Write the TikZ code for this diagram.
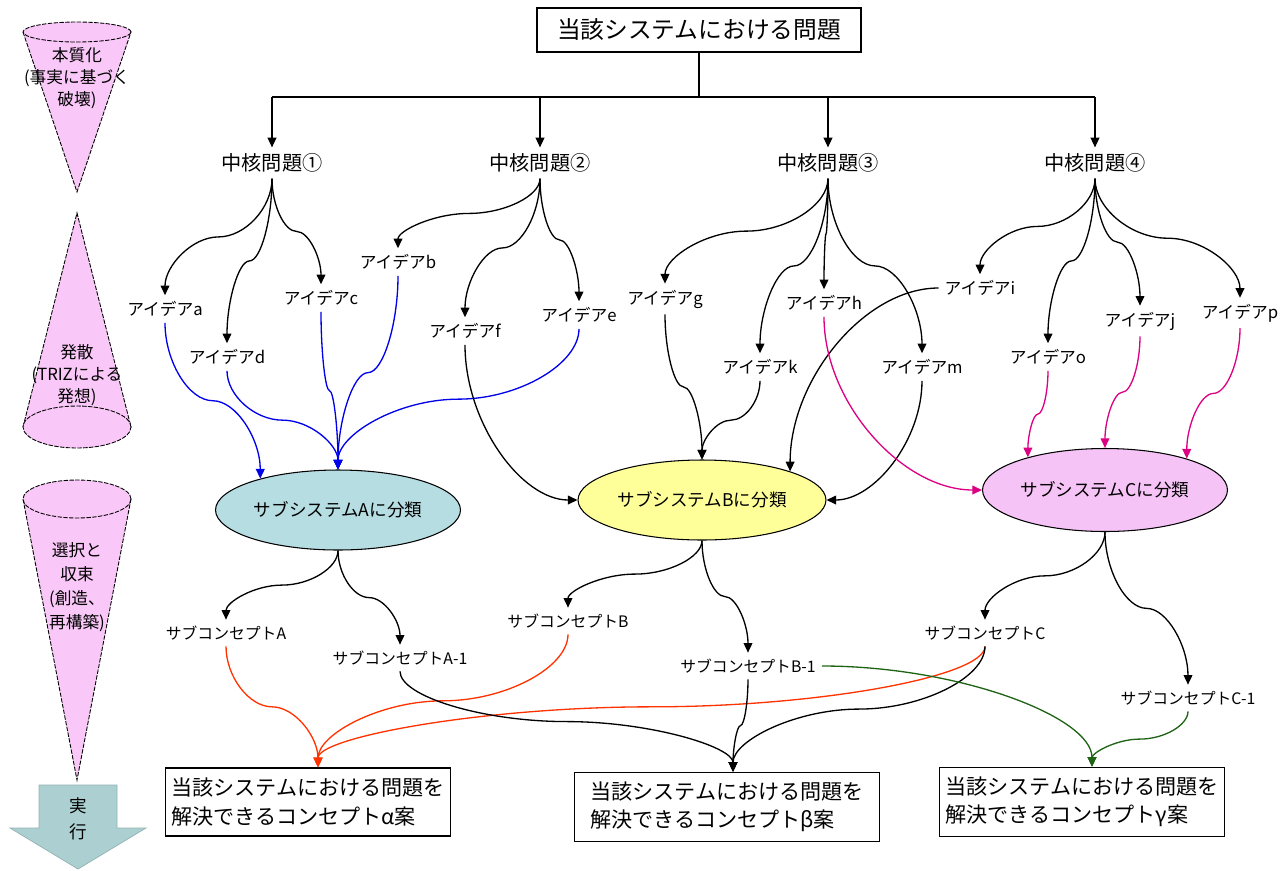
\documentclass[tikz,border=0pt]{standalone}
\usepackage{fontspec}
\setmainfont{Noto Sans CJK JP}
\usetikzlibrary{arrows.meta,shapes.geometric,calc}

\definecolor{sysAcol}{RGB}{182,221,226}
\definecolor{sysBcol}{RGB}{255,255,153}
\definecolor{sysCcol}{RGB}{245,195,245}
\definecolor{conecol}{RGB}{250,200,248}
\definecolor{runcol}{RGB}{172,208,210}
\definecolor{ablue}{RGB}{0,0,235}
\definecolor{amag}{RGB}{220,0,130}
\definecolor{ared}{RGB}{255,50,0}
\definecolor{agreen}{RGB}{30,100,20}

\tikzset{
	arr/.style={line width=0.75pt, -{Triangle[length=5.5pt,width=5pt]}},
	xlcurve/.style={to path={let \p1=(\tikztostart), \p2=(\tikztotarget) in
		.. controls (\x1,{\y1+(\y2-\y1)/4}) and ({\x1+(\x2-\x1)/4},{(\y1+\y2)/2})
		.. ({(\x1+\x2)/2},{(\y1+\y2)/2})
		.. controls ({\x1+3*(\x2-\x1)/4},{(\y1+\y2)/2}) and (\x2,{\y1+3*(\y2-\y1)/4})
		.. (\tikztotarget) \tikztonodes}},
	vbend/.style={to path={let \p1=(\tikztostart), \p2=(\tikztotarget) in
		.. controls (\x1,{(\y1+\y2)/2}) and ({(\x1+\x2)/2},\y2) .. (\tikztotarget) \tikztonodes}},
	hbend/.style={to path={let \p1=(\tikztostart), \p2=(\tikztotarget) in
		.. controls ({(\x1+\x2)/2},\y1) and (\x2,{(\y1+\y2)/2}) .. (\tikztotarget) \tikztonodes}},
	title/.style={draw, line width=0.8pt, minimum width=6.48cm, minimum height=0.88cm, font=\fontsize{13.5}{16}\selectfont},
	core/.style={font=\fontsize{11.5}{14}\selectfont},
	idea/.style={font=\fontsize{9.5}{12}\selectfont},
	subsys/.style={ellipse, draw, line width=0.6pt, inner sep=0pt, font=\fontsize{10}{12}\selectfont},
	subc/.style={font=\fontsize{9}{11}\selectfont},
	plan/.style={draw, line width=0.8pt, align=left, font=\fontsize{12}{16}\selectfont},
	cone/.style={fill=conecol, draw, line width=0.5pt, dash pattern=on 2.5pt off 0.8pt},
	phase/.style={align=center, inner sep=0pt, font=\fontsize{9.5}{12.7}\selectfont}
}

\begin{document}
\begin{tikzpicture}[x=0.02cm, y=-0.02cm]
		
		\useasboundingbox (0,0) rectangle (1286,870);
		
		%%% left column
		\filldraw[cone] (23,32) -- (77,192) -- (131,32) -- cycle;
		\filldraw[cone] (77,32) ellipse (1.08cm and 0.2cm);
		\filldraw[cone] (23,427) -- (77,213) -- (131,427) -- cycle;
		\filldraw[cone] (77,427) ellipse (1.08cm and 0.42cm);
		\filldraw[cone] (23,499) -- (77,780) -- (131,499) -- cycle;
		\filldraw[cone] (77,499) ellipse (1.08cm and 0.38cm);
		\filldraw[fill=runcol, draw=runcol!85!black, line width=0.4pt] (39,785) -- (117,785) -- (117,828) -- (146,828) -- (78,869) -- (10,828) -- (39,828) -- cycle;
		
		\node[phase] (ph1) at (77,78) {本質化\\(事実に基づく\\破壊)};
		\node[phase] (ph2) at (77,375) {発散\\(TRIZによる\\発想)};
		\node[phase, font=\fontsize{9.5}{13.6}\selectfont] (ph3) at (77,587) {選択と\\収束\\(創造、\\再構築)};
		\node[phase, font=\fontsize{10}{14.5}\selectfont] (run) at (78,819) {実\\行};
		
		%%% nodes
		\node[title] (top) at (699,30) {当該システムにおける問題};
		\coordinate (bar) at (699,97);
		
		\node[core] (core1) at (272,163) {中核問題①};
		\node[core] (core2) at (540,163) {中核問題②};
		\node[core] (core3) at (828,163) {中核問題③};
		\node[core] (core4) at (1095,163) {中核問題④};
		
		\node[idea] (ida) at (165,309) {アイデアa};
		\node[idea] (idb) at (398,262) {アイデアb};
		\node[idea] (idc) at (321,298) {アイデアc};
		\node[idea] (idd) at (227,357) {アイデアd};
		\node[idea] (ide) at (579,315) {アイデアe};
		\node[idea] (idf) at (465,331) {アイデアf};
		\node[idea] (idg) at (665,299) {アイデアg};
		\node[idea] (idh) at (824,303) {アイデアh};
		\node[idea] (idk) at (760,367) {アイデアk};
		\node[idea] (idm) at (922,367) {アイデアm};
		\node[idea] (idi) at (980,288) {アイデアi};
		\node[idea] (ido) at (1048,357) {アイデアo};
		\node[idea] (idj) at (1140,321) {アイデアj};
		\node[idea] (idp) at (1240,313) {アイデアp};
		
		\node[subsys, fill=sysAcol, minimum width=4.9cm, minimum height=1.6cm] (sysA) at (338,510) {サブシステムAに分類};
		\node[subsys, fill=sysBcol, minimum width=4.96cm, minimum height=1.6cm] (sysB) at (702,500) {サブシステムBに分類};
		\node[subsys, fill=sysCcol, minimum width=4.9cm, minimum height=1.66cm] (sysC) at (1105,490) {サブシステムCに分類};
		
		\node[subc] (subA) at (226,633) {サブコンセプトA};
		\node[subc] (subA1) at (400,658) {サブコンセプトA-1};
		\node[subc] (subB) at (568,621) {サブコンセプトB};
		\node[subc] (subB1) at (748,666) {サブコンセプトB-1};
		\node[subc] (subC) at (985,633) {サブコンセプトC};
		\node[subc] (subC1) at (1188,698) {サブコンセプトC-1};
		
		\node[plan, minimum width=5.68cm, minimum height=1.36cm] (alpha) at (308,802) {当該システムにおける問題を\\解決できるコンセプトα案};
		\node[plan, minimum width=6.1cm, minimum height=1.38cm] (beta) at (727,807) {当該システムにおける問題を\\解決できるコンセプトβ案};
		\node[plan, minimum width=5.62cm, minimum height=1.38cm] (gamma) at (1082,802) {当該システムにおける問題を\\解決できるコンセプトγ案};
		
		%%% top tree
		\draw[line width=0.8pt] (top.south) -- (bar);
		\draw[line width=0.8pt] (bar -| core1) -- (bar -| core4);
		\foreach \c in {core1,core2,core3,core4}
			\draw[arr] (bar -| \c) -- (\c.north);
		
		%%% core 1
		\draw[arr] (core1.south) to[xlcurve] (ida.north);
		\draw[arr] (core1.south) to[xlcurve] (idd.north);
		\draw[arr] (core1.south) to[xlcurve] (idc.north);
		
		%%% core 2
		\draw[arr] (core2.south) to[xlcurve] (idb.north);
		\draw[arr] (core2.south) to[xlcurve] (idf.north);
		\draw[arr] (core2.south) to[xlcurve] (ide.north);
		
		%%% core 3
		\draw[arr] (core3.south) to[xlcurve] (idg.north);
		\draw[arr] (core3.south) to[xlcurve] (idh.north);
		\draw[arr] (core3.south) to[xlcurve] (idk.north);
		\draw[arr] (core3.south) to[xlcurve] (idm.north);
		
		%%% core 4
		\draw[arr] (core4.south) to[xlcurve] (idi.north);
		\draw[arr] (core4.south) to[xlcurve] (ido.north);
		\draw[arr] (core4.south) to[xlcurve] (idj.north);
		\draw[arr] (core4.south) to[xlcurve] (idp.north);
		
		%%% ideas -> A
		\draw[arr, ablue] (ida.south) to[xlcurve] (sysA.158);
		\draw[arr, ablue] (idd.south) to[xlcurve] (sysA.north);
		\draw[arr, ablue] (idc.south) to[xlcurve] (sysA.north);
		\draw[arr, ablue] (idb.south) to[xlcurve] (sysA.north);
		\draw[arr, ablue] (ide.south) to[xlcurve] (sysA.north);
		
		%%% ideas -> B
		\draw[arr] (idf.south) to[vbend] (sysB.west);
		\draw[arr] (idg.south) to[xlcurve] (sysB.north);
		\draw[arr] (idk.south) to[xlcurve] (sysB.north);
		\draw[arr] (idi.west) to[hbend] (sysB.18);
		\draw[arr] (idm.south) to[vbend] (sysB.east);
		
		%%% ideas -> C
		\draw[arr, amag] (idh.south) to[vbend] (sysC.west);
		\draw[arr, amag] (ido.south) to[xlcurve] (sysC.157);
		\draw[arr, amag] (idj.south) to[xlcurve] (sysC.north);
		\draw[arr, amag] (idp.south) to[xlcurve] (sysC.21);
		
		%%% subsystems -> sub concepts
		\draw[arr] (sysA.south) to[xlcurve] (subA.north);
		\draw[arr] (sysA.south) to[xlcurve] (subA1.north);
		\draw[arr] (sysB.south) to[xlcurve] (subB.north);
		\draw[arr] (sysB.south) to[xlcurve] (subB1.north);
		\draw[arr] (sysC.south) to[xlcurve] (subC.north);
		\draw[arr] (sysC.south) to[xlcurve] (subC1.north);
		
		%%% alpha
		\draw[arr, ared] (subA.south) to[xlcurve] ([xshift=0.2cm]alpha.north);
		\draw[arr, ared] (subB.south) to[xlcurve] ([xshift=0.2cm]alpha.north);
		\draw[arr, ared] (subC.south) to[xlcurve] ([xshift=0.2cm]alpha.north);
		
		%%% beta
		\draw[arr] (subA1.south) to[xlcurve] ([xshift=0.12cm]beta.north);
		\draw[arr] (subB1.south) to[xlcurve] ([xshift=0.12cm]beta.north);
		\draw[arr] (subC.south) to[xlcurve] ([xshift=0.12cm]beta.north);
		
		%%% gamma
		\draw[arr, agreen] (subB1.east) to[hbend] ([xshift=0.2cm]gamma.north);
		\draw[arr, agreen] (subC1.south) to[xlcurve] ([xshift=0.2cm]gamma.north);
		
	\end{tikzpicture}
\end{document}
